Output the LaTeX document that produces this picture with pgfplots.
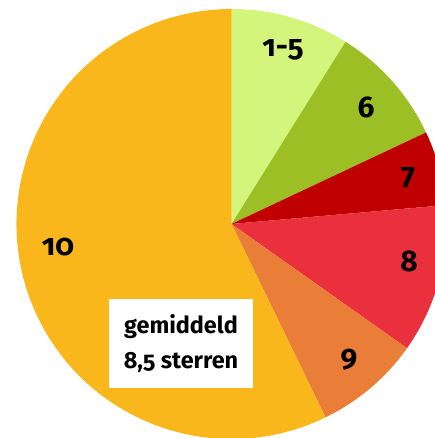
\documentclass[border=0pt]{standalone}
\usepackage{pgfplots}
\pgfplotsset{compat=1.18}
\usepackage{fontspec}
\setmainfont{Fira Sans}[Numbers=OldStyle]
\definecolor{cA}{HTML}{D3F57B}
\definecolor{cB}{HTML}{9BBF24}
\definecolor{cC}{HTML}{C00000}
\definecolor{cD}{HTML}{E9303C}
\definecolor{cE}{HTML}{EA7D38}
\definecolor{cF}{HTML}{F9B71B}
\begin{document}
\begin{tikzpicture}
\begin{axis}[
  x=1bp, y=1bp,
  xmin=0, xmax=435, ymin=0, ymax=438,
  y dir=reverse,
  hide axis,
  clip=true,
]
\coordinate (ll) at (rel axis cs:0,0);
\coordinate (ur) at (rel axis cs:1,1);
\xdef\start{90}
% share (%) / colour / label / label x / label y (pixels)
\foreach \v/\col/\lab/\lx/\ly in {8.9/cA/{1-5}/283/50, 9.1/cB/6/366/107, 5.6/cC/7/408/178, 11.2/cD/8/409/261, 8.0/cE/9/349/360, 57.2/cF/10/58/247} {
  \pgfmathsetmacro{\en}{\start-3.6*\v}
  \edef\temp{\noexpand\fill[\col] (axis cs:231.5,224) -- ++(\start:215bp) arc[start angle=\start, end angle=\en, radius=215bp] -- cycle;
    \noexpand\node[font=\noexpand\bfseries\noexpand\fontsize{30}{34}\noexpand\selectfont] at (axis cs:\lx,\ly) {\lab};}
  \temp
  \xdef\start{\en}
}
\node[fill=white, minimum width=144bp, minimum height=89bp, inner sep=0pt, align=center,
  font=\bfseries\fontsize{23.5}{35}\selectfont] at (axis cs:181,343.5) {gemiddeld\\8,5 sterren};
\end{axis}
\pgfresetboundingbox
\useasboundingbox (ll) rectangle (ur);
\end{tikzpicture}
\end{document}
